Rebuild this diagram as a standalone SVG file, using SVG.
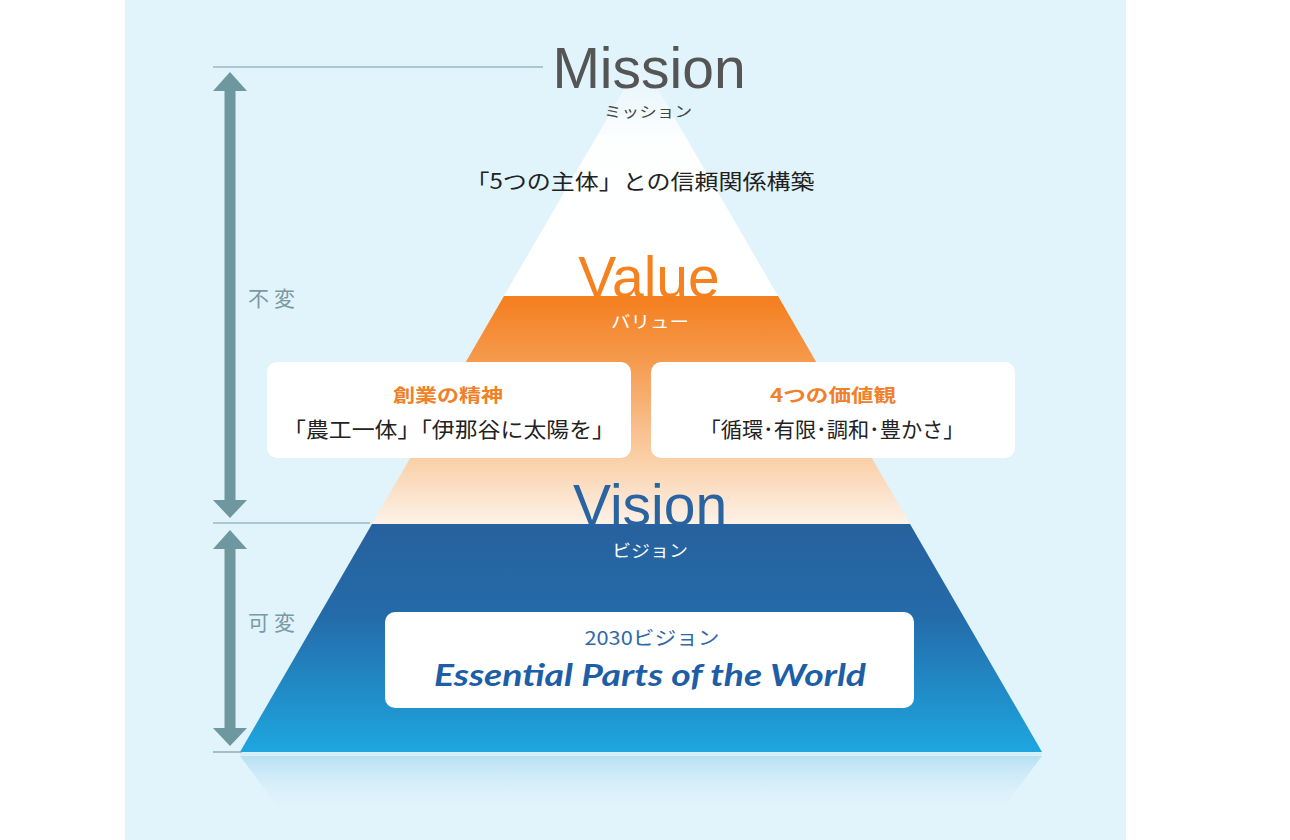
<svg xmlns="http://www.w3.org/2000/svg" width="1290" height="840" viewBox="0 0 1290 840">
<style>
.jp{font-family:"Noto Sans CJK JP","Noto Sans",sans-serif}
.big{font-family:"Liberation Sans",Arial,sans-serif;font-size:57px;text-anchor:middle}
.kana{font-size:17px;text-anchor:middle;fill:#ffffff}
.org{fill:#f0812a;font-weight:bold;font-size:18px;text-anchor:middle}
.body{font-size:21px;text-anchor:middle;fill:#222222}
.side{font-size:21px;fill:#7a9aa4;letter-spacing:5px}
.guide{stroke:#7b9ca6;stroke-width:1.2;fill:none}
.shaft{stroke:#6f979f;stroke-width:11;fill:none}
.head{fill:#6f979f}
.box{fill:#ffffff}
</style>
<defs>
<linearGradient id="gTop" x1="0" y1="60" x2="0" y2="296" gradientUnits="userSpaceOnUse">
<stop offset="0" stop-color="#ffffff" stop-opacity="0"/>
<stop offset="0.35" stop-color="#ffffff" stop-opacity="0.95"/>
<stop offset="1" stop-color="#ffffff"/>
</linearGradient>
<linearGradient id="gMid" x1="0" y1="296" x2="0" y2="524" gradientUnits="userSpaceOnUse">
<stop offset="0" stop-color="#f47e1e"/>
<stop offset="0.28" stop-color="#f59a4d"/>
<stop offset="0.72" stop-color="#fad0a9"/>
<stop offset="1" stop-color="#fdf2e8"/>
</linearGradient>
<linearGradient id="gLow" x1="0" y1="524" x2="0" y2="752" gradientUnits="userSpaceOnUse">
<stop offset="0" stop-color="#27619e"/>
<stop offset="0.4" stop-color="#246ba9"/>
<stop offset="1" stop-color="#1ea6df"/>
</linearGradient>
<linearGradient id="gRef" x1="0" y1="755" x2="0" y2="812" gradientUnits="userSpaceOnUse">
<stop offset="0" stop-color="#b5dff3"/>
<stop offset="1" stop-color="#e1f3fb" stop-opacity="0"/>
</linearGradient>
</defs>

<rect x="125" y="0" width="1001" height="840" fill="#e1f3fb"/>

<g id="reflection">
<polygon points="240,756 1042,756 1000,812 282,812" fill="url(#gRef)"/>
<line x1="240" y1="754" x2="1042" y2="754" stroke="#d4eef9" stroke-width="3"/>
</g>

<g id="mission">
<polygon points="641,60 778,296 504,296" fill="url(#gTop)"/>
<text class="big" x="649" y="88" fill="#555555">Mission</text>
<text class="jp kana" x="648" y="117" style="fill:#444444;font-size:15px" textLength="88" lengthAdjust="spacingAndGlyphs">ミッション</text>
<text class="jp body" x="640" y="189" textLength="349" lengthAdjust="spacingAndGlyphs">「5つの主体」との信頼関係構築</text>
</g>

<g id="value">
<polygon points="504,296 778,296 910,524 372,524" fill="url(#gMid)"/>
<text class="big" x="649" y="297" fill="#f5821f">Value</text>
<text class="jp kana" x="650" y="328" textLength="78" lengthAdjust="spacingAndGlyphs">バリュー</text>
</g>

<g id="founding-spirit">
<rect class="box" x="267" y="362" width="364" height="96" rx="10"/>
<text class="jp org" x="448" y="402" textLength="110" lengthAdjust="spacingAndGlyphs">創業の精神</text>
<text class="jp body" x="449" y="437" textLength="332" lengthAdjust="spacingAndGlyphs">「農工一体」「伊那谷に太陽を」</text>
</g>

<g id="four-values">
<rect class="box" x="651" y="362" width="364" height="96" rx="10"/>
<text class="jp org" x="833" y="402" textLength="126" lengthAdjust="spacingAndGlyphs">4つの価値観</text>
<text class="jp body" x="832" y="437" textLength="265" lengthAdjust="spacingAndGlyphs">「循環･有限･調和･豊かさ」</text>
</g>

<g id="vision">
<polygon points="372,524 910,524 1042,752 240,752" fill="url(#gLow)"/>
<text class="big" x="650" y="525" fill="#2a64a0">Vision</text>
<text class="jp kana" x="650" y="557" textLength="76" lengthAdjust="spacingAndGlyphs">ビジョン</text>
</g>

<g id="vision-2030">
<rect class="box" x="385" y="612" width="529" height="96" rx="10"/>
<text class="jp" x="652" y="645" text-anchor="middle" font-size="19" fill="#2f69a6" textLength="135" lengthAdjust="spacingAndGlyphs">2030ビジョン</text>
<text x="650" y="686" text-anchor="middle" font-family="Lato,'Open Sans',sans-serif" font-style="italic" font-weight="bold" font-size="30" fill="#1d5ea6" textLength="432" lengthAdjust="spacingAndGlyphs">Essential Parts of the World</text>
</g>

<g id="connectors">
<line class="guide" x1="213" y1="67" x2="543" y2="67"/>
<line class="guide" x1="213" y1="523" x2="370" y2="523"/>
<line class="guide" x1="213" y1="752" x2="242" y2="752"/>
<line class="shaft" x1="230" y1="88" x2="230" y2="503"/>
<polygon class="head" points="230,72 247,91 213,91"/>
<polygon class="head" points="230,518 247,500 213,500"/>
<line class="shaft" x1="230" y1="546" x2="230" y2="731"/>
<polygon class="head" points="230,530 247,549 213,549"/>
<polygon class="head" points="230,746 247,728 213,728"/>
</g>

<g id="labels">
<text class="jp side" x="248" y="306">不変</text>
<text class="jp side" x="248" y="630">可変</text>
</g>
</svg>
